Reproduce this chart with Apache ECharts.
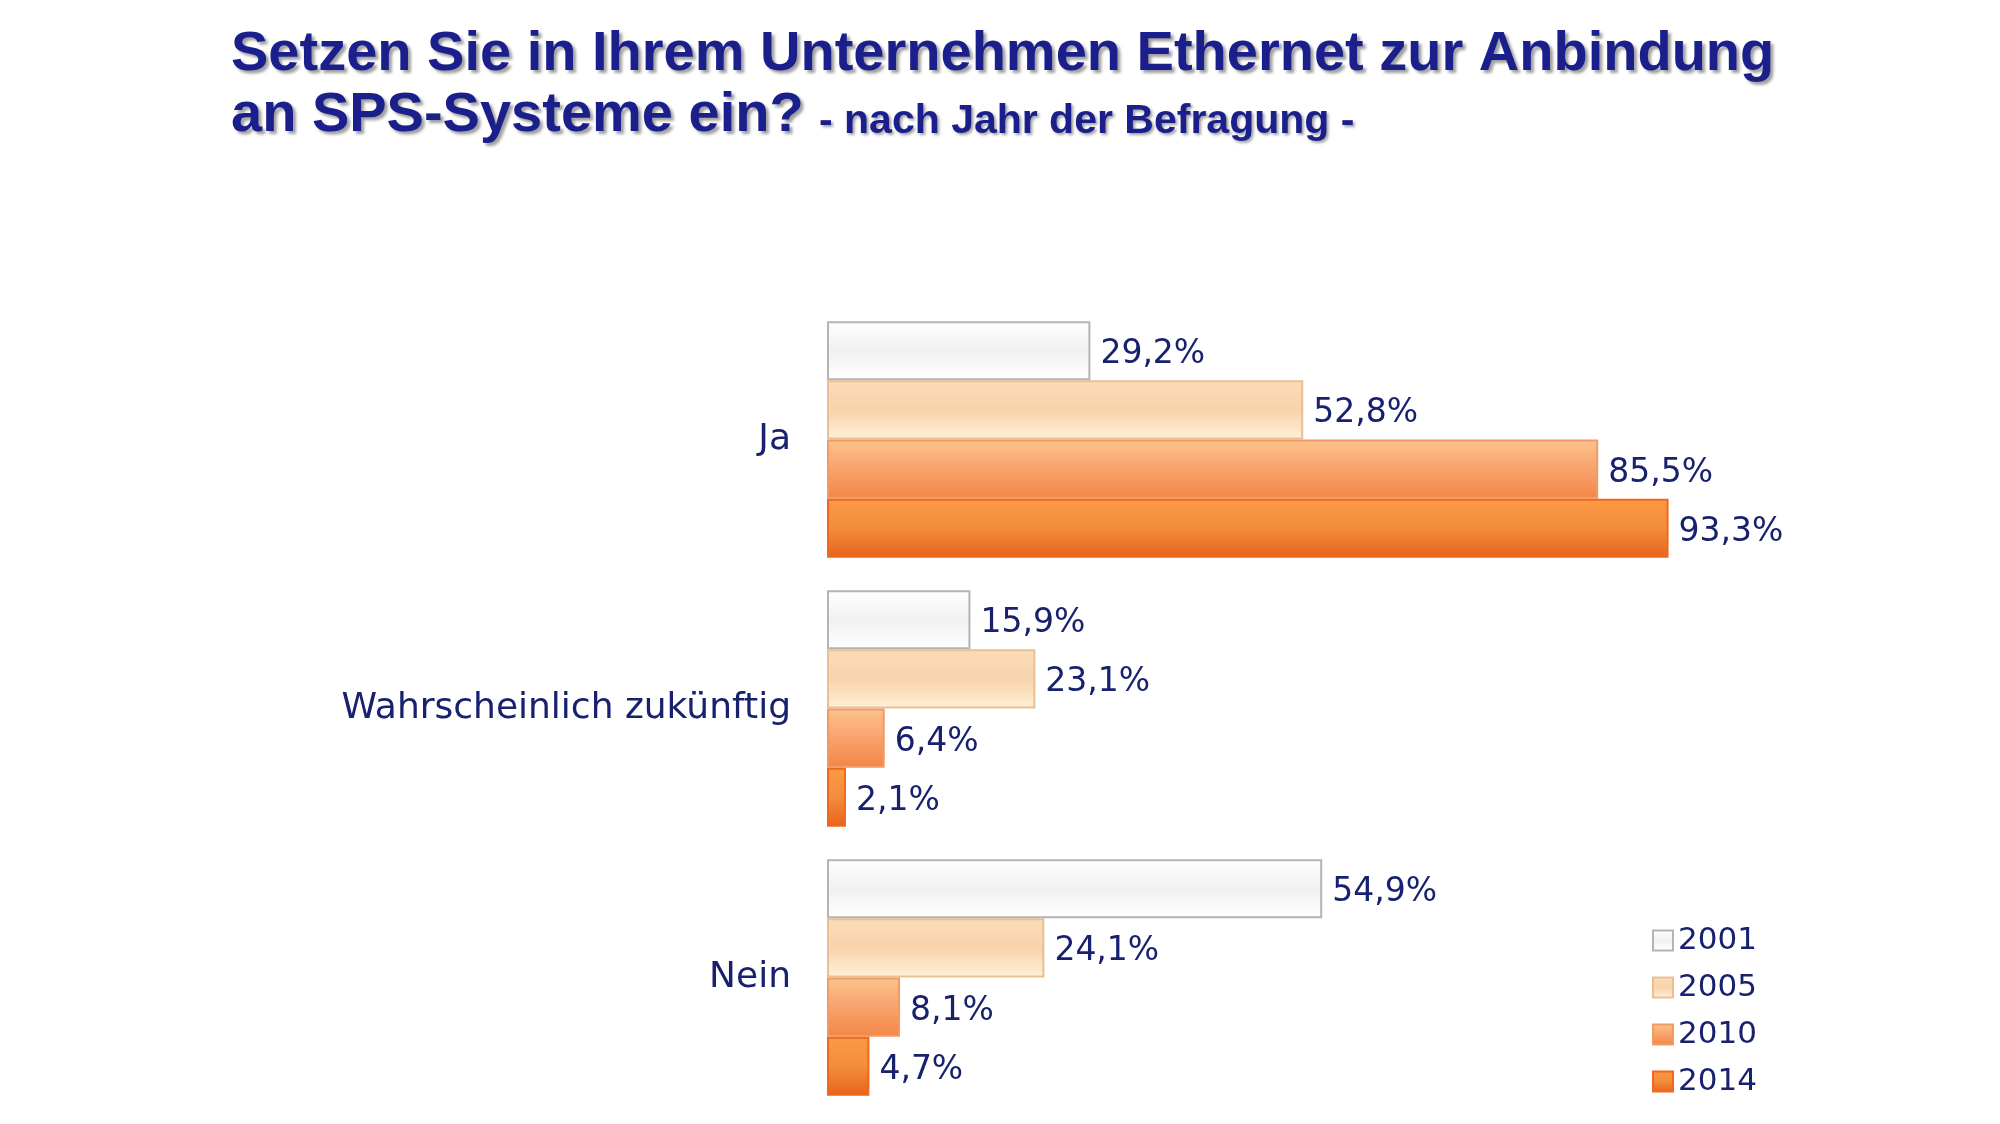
<!DOCTYPE html>
<html>
<head>
<meta charset="utf-8">
<script src="https://cdn.jsdelivr.net/npm/echarts@6/dist/echarts.min.js"></script>
<style>
  html, body { margin: 0; padding: 0; background: #fff; }
  #chart { width: 2000px; height: 1124px; }
</style>
</head>
<body>
<div id="chart"></div>
<script>
const categories = ["Ja", "Wahrscheinlich zukünftig", "Nein"];
const years = ["2001", "2005", "2010", "2014"];
const values2001 = [29.2, 15.9, 54.9];
const values2005 = [52.8, 23.1, 24.1];
const values2010 = [85.5, 6.4, 8.1];
const values2014 = [93.3, 2.1, 4.7];

const navy = "#17216e";
const titleBlue = "#1a1f8c";

// vertical gradients imitating the bevelled bars
const barStyles = [
  { stops: ["#ffffff", "#f1f1f1", "#ffffff"], border: "#b4b4b4" },
  { stops: ["#fbdcb8", "#f8d3ab", "#fff1d8"], border: "#e9bf95" },
  { stops: ["#fcc48e", "#f9a26c", "#f38646"], border: "#f39a64" },
  { stops: ["#fd9a45", "#f28d3c", "#e9621a"], border: "#f0681e" },
];

function gradient(stops) {
  return new echarts.graphic.LinearGradient(0, 0, 0, 1, [
    { offset: 0, color: stops[0] },
    { offset: 0.5, color: stops[1] },
    { offset: 1, color: stops[2] },
  ]);
}

function fmt(v) {
  return v.toFixed(1).replace(".", ",") + "%";
}

const chart = echarts.init(document.getElementById("chart"));

const seriesData = [values2001, values2005, values2010, values2014];

const shadow = {
  textShadowColor: "rgba(80,80,80,0.55)",
  textShadowBlur: 3,
  textShadowOffsetX: 3,
  textShadowOffsetY: 3,
};

chart.setOption({
  backgroundColor: "#ffffff",
  animation: false,
  title: [
    {
      left: 226,
      top: 19,
      text: "Setzen Sie in Ihrem Unternehmen Ethernet zur Anbindung\nan SPS-Systeme ein?",
      textStyle: {
        fontFamily: "Liberation Sans",
        fontWeight: "bold",
        fontSize: 56,
        lineHeight: 61,
        color: titleBlue,
        ...shadow,
      },
    },
    {
      left: 814,
      top: 96,
      text: "- nach Jahr der Befragung -",
      textStyle: {
        fontFamily: "Liberation Sans",
        fontWeight: "bold",
        fontSize: 41,
        lineHeight: 41,
        color: titleBlue,
        ...shadow,
        textShadowOffsetX: 2,
        textShadowOffsetY: 2,
      },
    },
  ],
  legend: {
    orient: "vertical",
    left: 1647,
    top: 920,
    itemWidth: 20,
    itemHeight: 20,
    itemGap: 16,
    icon: "rect",
    data: years,
    textStyle: { fontFamily: "DejaVu Sans", fontSize: 31, color: navy },
  },
  grid: { left: 827, top: 305, width: 902, height: 807, containLabel: false },
  xAxis: {
    type: "value",
    min: 0,
    max: 100,
    show: false,
  },
  yAxis: {
    type: "category",
    data: categories,
    inverse: true,
    axisLine: { show: false },
    axisTick: { show: false },
    axisLabel: {
      margin: 36,
      fontFamily: "DejaVu Sans",
      fontSize: 36,
      color: navy,
    },
  },
  series: years.map((year, i) => ({
    name: year,
    type: "bar",
    data: seriesData[i],
    barGap: "0%",
    barCategoryGap: "12%",
    itemStyle: {
      color: gradient(barStyles[i].stops),
      borderColor: barStyles[i].border,
      borderWidth: 2,
    },
    label: {
      show: true,
      position: "right",
      distance: 10,
      offset: [0, 4],
      fontFamily: "DejaVu Sans",
      fontSize: 33,
      color: navy,
      formatter: (p) => fmt(p.value),
    },
  })),
});
</script>
</body>
</html>
